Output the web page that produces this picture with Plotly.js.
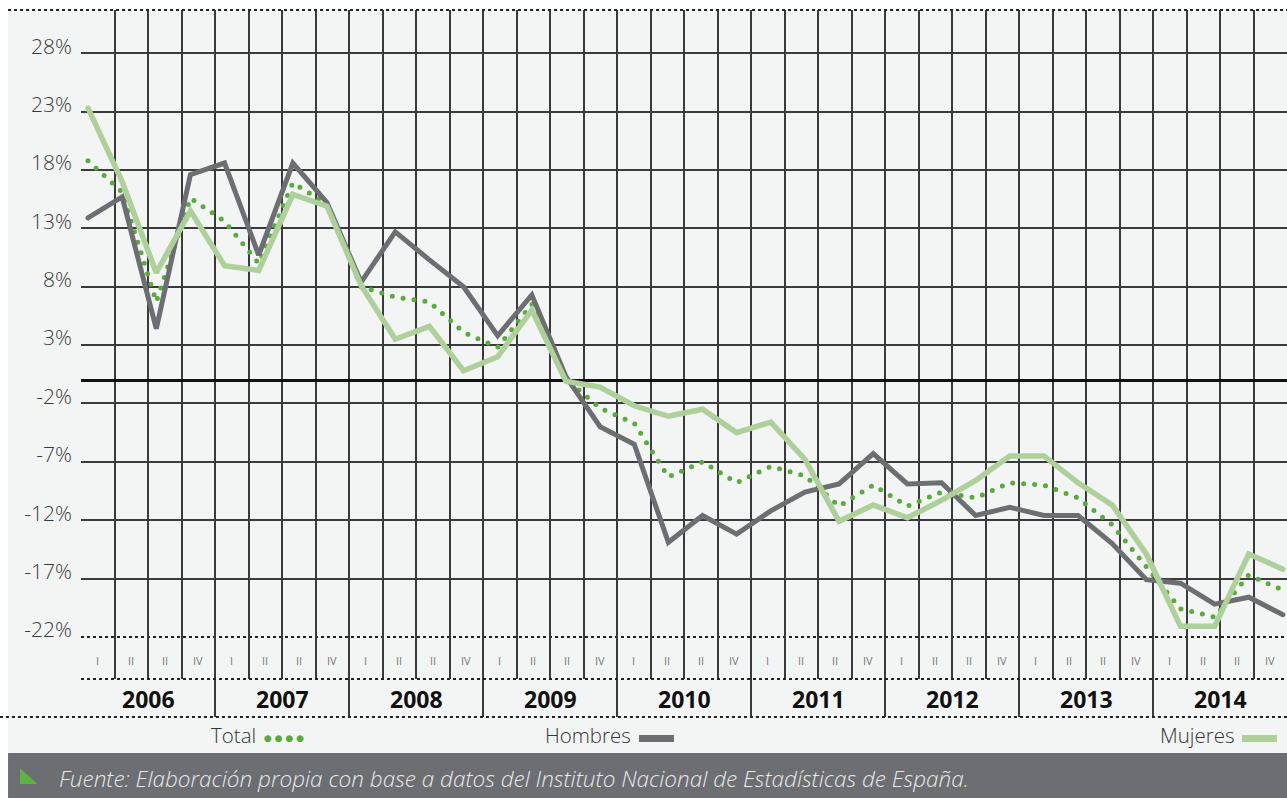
<!DOCTYPE html>
<html>
<head>
<meta charset="utf-8">
<script src="https://cdn.plot.ly/plotly-3.0.1.min.js"></script>
<style>
  html, body { margin: 0; padding: 0; background: #ffffff; }
  #chart { width: 1287px; height: 798px; }
  /* round caps turn the zero-length dashes of the Total line into dots */
  .js-line { stroke-linecap: round !important; }
</style>
</head>
<body>
<div id="chart"></div>
<script>
// periods: 2006 I .. 2014 IV
const years = ['2006', '2007', '2008', '2009', '2010', '2011', '2012', '2013', '2014'];
const quarterLabels = ['I', 'II', 'II', 'IV'];

// annual variation (%)
const total = [18.8, 16.1, 6.7, 15.6, 13.6, 10.0, 16.9, 15.1, 8.0, 7.1, 6.7, 4.1,
  2.8, 6.5, 0.1, -2.4, -3.7, -8.3, -7.0, -8.8, -7.4, -8.2, -10.8, -9.0,
  -10.8, -9.6, -10.1, -8.8, -9.0, -10.1, -12.4, -16.0, -19.6, -20.3, -16.7, -18.0];
const hombres = [13.9, 15.7, 4.4, 17.6, 18.6, 10.7, 18.6, 15.2, 8.4, 12.7, 10.3, 8.0,
  3.8, 7.3, 0.3, -4.0, -5.5, -13.9, -11.6, -13.2, -11.2, -9.6, -8.9, -6.3,
  -8.9, -8.8, -11.6, -10.9, -11.6, -11.6, -14.0, -17.1, -17.4, -19.2, -18.6, -20.1];
const mujeres = [23.3, 17.0, 9.2, 14.5, 9.8, 9.4, 15.9, 14.9, 8.1, 3.5, 4.6, 0.8,
  2.0, 6.0, -0.1, -0.6, -2.2, -3.1, -2.5, -4.5, -3.6, -6.8, -12.1, -10.7,
  -11.8, -10.3, -8.6, -6.5, -6.5, -8.8, -10.7, -14.9, -21.1, -21.1, -14.9, -16.2];

const yTickVals = [28, 23, 18, 13, 8, 3, -2, -7, -12, -17];
const yBottomTick = -22;

const legendNames = ['Total', 'Hombres', 'Mujeres'];
const source = 'Fuente: Elaboración propia con base a datos del Instituto Nacional de Estadísticas de España.';

const periods = [];
years.forEach(y => quarterLabels.forEach(q => periods.push({ year: y, q: q })));
const xIdx = periods.map((_, i) => i);
const nQ = periods.length;

const gridColor = '#3a3a3a';
const bg = '#f3f5f4';
const yRange = [-25.61, 31.71];
const stripTop = 0.05375;   // paper y of the line between quarter row and year row
const labelFont = { family: 'Open Sans', size: 21, color: '#3a3a3a', weight: 300 };

const traces = [
  {
    x: xIdx, y: total, name: legendNames[0], type: 'scatter', mode: 'lines',
    line: { color: '#5aab3e', width: 5, dash: '0px,11px' },
    showlegend: false, hoverinfo: 'skip'
  },
  {
    x: xIdx, y: hombres, name: legendNames[1], type: 'scatter', mode: 'lines',
    line: { color: '#6d6e71', width: 5 },
    showlegend: false, hoverinfo: 'skip'
  },
  {
    x: xIdx, y: mujeres, name: legendNames[2], type: 'scatter', mode: 'lines',
    line: { color: '#aed09a', width: 5.5 },
    showlegend: false, hoverinfo: 'skip'
  },
  // keep the helper axes alive
  { x: [], y: [], xaxis: 'x', yaxis: 'y2', showlegend: false, hoverinfo: 'skip' },
  { x: [], y: [], xaxis: 'x3', yaxis: 'y3', showlegend: false, hoverinfo: 'skip' }
];

const annotations = [];
periods.forEach((p, i) => {
  annotations.push({
    text: p.q, xref: 'x2', yref: 'paper', x: i + 0.5, y: 0.0806, yanchor: 'middle',
    showarrow: false, font: { family: 'Open Sans', size: 11, color: '#777777' }
  });
});
years.forEach((y, i) => {
  annotations.push({
    text: '<b>' + y + '</b>', xref: 'x3', yref: 'paper', x: i * 4 + 2, y: 0.0255, yanchor: 'middle',
    showarrow: false, font: { family: 'Open Sans', size: 23, color: '#111111' }
  });
});
// legend row
const legendFont = { family: 'Open Sans', size: 20.5, color: '#333333', weight: 300 };
annotations.push(
  { text: legendNames[0], xref: 'paper', yref: 'paper', x: 0.1468, y: -0.0255,
    xanchor: 'right', yanchor: 'middle', showarrow: false, font: legendFont },
  { text: '● ● ● ●', xref: 'paper', yref: 'paper', x: 0.1500, y: -0.0290,
    xanchor: 'left', yanchor: 'middle', showarrow: false,
    font: { family: 'DejaVu Sans', size: 9, color: '#5aab3e' } },
  { text: legendNames[1], xref: 'paper', yref: 'paper', x: 0.4577, y: -0.0255,
    xanchor: 'right', yanchor: 'middle', showarrow: false, font: legendFont },
  { text: legendNames[2], xref: 'paper', yref: 'paper', x: 0.9577, y: -0.0255,
    xanchor: 'right', yanchor: 'middle', showarrow: false, font: legendFont },
  { text: '<i>' + source + '</i>', xref: 'paper', yref: 'paper', x: -0.0199, y: -0.0863,
    xanchor: 'left', yanchor: 'middle', showarrow: false,
    font: { family: 'Open Sans', size: 22.5, color: '#e8e8e8', weight: 300 } }
);

const shapes = [
  // light panel and footer band
  { type: 'rect', xref: 'paper', yref: 'paper', x0: -0.0605, x1: 1, y0: -0.0509, y1: 1,
    fillcolor: bg, line: { width: 0 }, layer: 'below' },
  { type: 'rect', xref: 'paper', yref: 'paper', x0: -0.0605, x1: 1, y0: -0.1146, y1: -0.0509,
    fillcolor: '#6d6e71', line: { width: 0 }, layer: 'below' },
  // green corner mark in the footer
  { type: 'path', xref: 'paper', yref: 'paper',
    path: 'M -0.0506 -0.0726 L -0.0506 -0.0948 L -0.0362 -0.0948 Z',
    fillcolor: '#5cb543', line: { width: 0 } },
  // dotted rules
  { type: 'line', xref: 'paper', yref: 'paper', x0: -0.0605, x1: 1, y0: 1, y1: 1,
    line: { color: '#222222', width: 2, dash: 'dot' } },
  { type: 'line', xref: 'paper', yref: 'paper', x0: 0, x1: 1, y0: stripTop, y1: stripTop,
    line: { color: '#222222', width: 2, dash: 'dot' } },
  { type: 'line', xref: 'paper', yref: 'paper', x0: -0.0672, x1: 1, y0: 0, y1: 0,
    line: { color: '#222222', width: 2, dash: 'dot' } },
  // legend swatches
  { type: 'rect', xref: 'paper', yref: 'paper', x0: 0.4627, x1: 0.4917, y0: -0.0354, y1: -0.0255,
    fillcolor: '#6d6e71', line: { width: 0 } },
  { type: 'rect', xref: 'paper', yref: 'paper', x0: 0.9627, x1: 0.9917, y0: -0.0354, y1: -0.0255,
    fillcolor: '#aed09a', line: { width: 0 } }
];

const layout = {
  width: 1287,
  height: 798,
  margin: { l: 81, r: 0, t: 10, b: 81 },
  paper_bgcolor: '#ffffff',
  plot_bgcolor: 'rgba(0,0,0,0)',
  showlegend: false,
  font: { family: 'Open Sans', color: '#333333' },
  xaxis: {
    domain: [0, 1], anchor: 'y', range: [-0.205, 35.12],
    visible: false, fixedrange: true
  },
  xaxis2: {
    overlaying: 'x', anchor: 'y', range: [0, nQ],
    tickmode: 'array', tickvals: Array.from({ length: nQ + 1 }, (_, i) => i),
    showticklabels: false, ticks: '', showgrid: true, gridcolor: gridColor, gridwidth: 2,
    zeroline: false, showline: false
  },
  yaxis: {
    domain: [stripTop, 1], anchor: 'x', range: yRange,
    tickmode: 'array', tickvals: yTickVals, ticktext: yTickVals.map(v => v + '%'),
    showgrid: true, gridcolor: gridColor, gridwidth: 2,
    zeroline: true, zerolinecolor: '#111111', zerolinewidth: 3,
    showline: false, ticks: '', ticklabelstandoff: 8, ticklabelshift: -7,
    tickfont: labelFont
  },
  yaxis2: {
    overlaying: 'y', anchor: 'x', side: 'left', range: yRange,
    tickmode: 'array', tickvals: [yBottomTick], ticktext: [yBottomTick + '%'],
    showgrid: true, gridcolor: '#222222', gridwidth: 2, griddash: 'dot',
    zeroline: false, showline: false, ticks: '', ticklabelstandoff: 8, ticklabelshift: -7,
    tickfont: labelFont
  },
  xaxis3: {
    domain: [0, 1], anchor: 'y3', range: [0, nQ],
    tickmode: 'array', tickvals: years.map((_, i) => i * 4).concat([nQ]),
    showticklabels: false, ticks: '', showgrid: true, gridcolor: gridColor, gridwidth: 2,
    zeroline: false, showline: false
  },
  yaxis3: {
    domain: [0, stripTop], anchor: 'x3', range: [0, 1],
    showgrid: false, showticklabels: false, zeroline: false, showline: false, ticks: ''
  },
  annotations: annotations,
  shapes: shapes
};

Plotly.newPlot('chart', traces, layout, { staticPlot: true, displayModeBar: false });
</script>
</body>
</html>
